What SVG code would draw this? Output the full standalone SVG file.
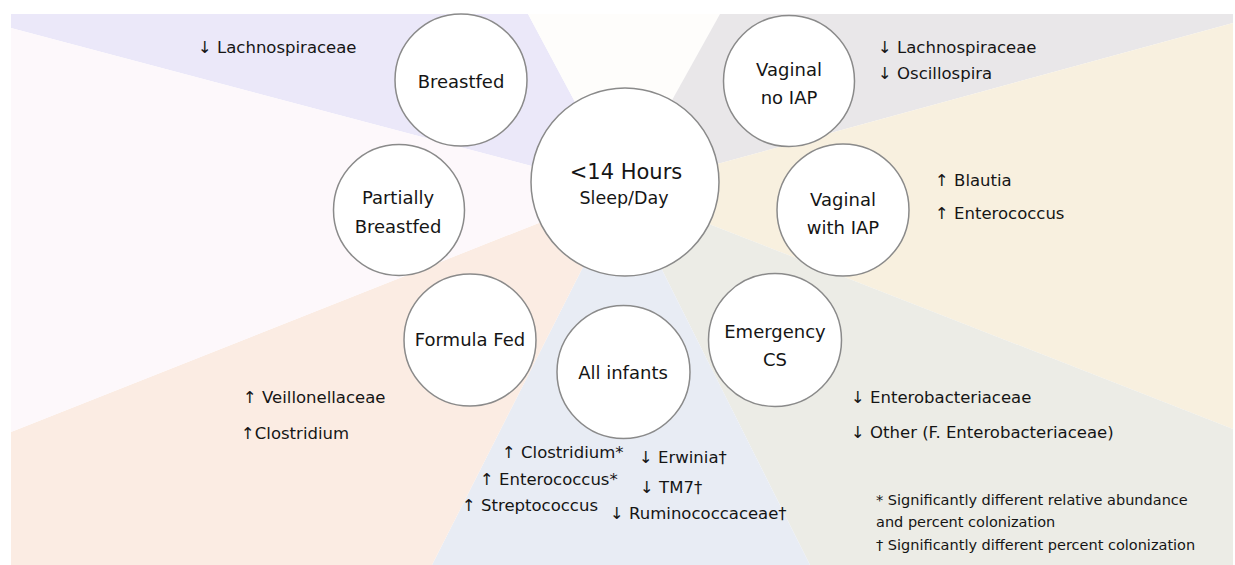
<svg xmlns="http://www.w3.org/2000/svg" width="1235" height="565" viewBox="0 0 1235 565">
<style>
  text { font-family: "DejaVu Sans", "Liberation Sans", sans-serif; fill: #151515; }
  .node circle { fill: #ffffff; stroke: #8a8a8a; stroke-width: 1.5; }
  .lbl { font-size: 18px; text-anchor: middle; }
  .ann { font-size: 16.5px; }
  .foot { font-size: 14.5px; }
</style>
<rect width="1235" height="565" fill="#ffffff"/>
<g id="background">
  <polygon points="11,14 528,14 622,190 11,28" fill="#ebe8f9"/>
  <polygon points="528,14 720,14 622,190" fill="#fefdfb"/>
  <polygon points="720,14 1233,14 1233,23 622,190" fill="#e9e7e9"/>
  <polygon points="1233,23 1233,429 622,190" fill="#f8f0df"/>
  <polygon points="1233,429 1233,565 810,565 622,190" fill="#ecece6"/>
  <polygon points="810,565 432,565 622,190" fill="#e8ecf4"/>
  <polygon points="432,565 11,565 11,432 622,190" fill="#fbece3"/>
  <polygon points="11,432 11,28 622,190" fill="#fdf8fb"/>
</g>
<g id="connectors"/>
<g id="center" class="node">
  <circle cx="625" cy="182" r="94"/>
  <text x="626" y="179" style="font-size:21px;text-anchor:middle">&lt;14 Hours</text>
  <text x="624" y="204" style="font-size:17.5px;text-anchor:middle">Sleep/Day</text>
</g>
<g id="breastfed" class="node">
  <circle cx="461" cy="80" r="66"/>
  <text class="lbl" x="461" y="88">Breastfed</text>
</g>
<g id="partially-breastfed" class="node">
  <circle cx="399" cy="210" r="65.5"/>
  <text class="lbl" x="398" y="204">Partially</text>
  <text class="lbl" x="398" y="233">Breastfed</text>
</g>
<g id="formula-fed" class="node">
  <circle cx="470" cy="340" r="66"/>
  <text class="lbl" x="470" y="346">Formula Fed</text>
</g>
<g id="all-infants" class="node">
  <circle cx="623.5" cy="372" r="66.5"/>
  <text class="lbl" x="623" y="379">All infants</text>
</g>
<g id="emergency-cs" class="node">
  <circle cx="775" cy="340" r="66.5"/>
  <text class="lbl" x="775" y="338">Emergency</text>
  <text class="lbl" x="775" y="366">CS</text>
</g>
<g id="vaginal-with-iap" class="node">
  <circle cx="843" cy="210" r="66"/>
  <text class="lbl" x="843" y="206">Vaginal</text>
  <text class="lbl" x="843" y="234">with IAP</text>
</g>
<g id="vaginal-no-iap" class="node">
  <circle cx="789" cy="81" r="65.5"/>
  <text class="lbl" x="789" y="76">Vaginal</text>
  <text class="lbl" x="789" y="104">no IAP</text>
</g>
<g id="annotations">
  <text class="ann" x="198" y="53">↓ Lachnospiraceae</text>
  <text class="ann" x="878" y="53">↓ Lachnospiraceae</text>
  <text class="ann" x="878" y="79">↓ Oscillospira</text>
  <text class="ann" x="935" y="186">↑ Blautia</text>
  <text class="ann" x="935" y="219">↑ Enterococcus</text>
  <text class="ann" x="243" y="403">↑ Veillonellaceae</text>
  <text class="ann" x="241" y="439">↑Clostridium</text>
  <text class="ann" x="851" y="403">↓ Enterobacteriaceae</text>
  <text class="ann" x="851" y="438">↓ Other (F. Enterobacteriaceae)</text>
  <text class="ann" x="502" y="458">↑ Clostridium*</text>
  <text class="ann" x="480" y="485">↑ Enterococcus*</text>
  <text class="ann" x="462" y="511">↑ Streptococcus</text>
  <text class="ann" x="639" y="463">↓ Erwinia†</text>
  <text class="ann" x="640" y="493">↓ TM7†</text>
  <text class="ann" x="610" y="519">↓ Ruminococcaceae†</text>
  <text class="foot" x="876" y="505">* Significantly different relative abundance</text>
  <text class="foot" x="876" y="527">and percent colonization</text>
  <text class="foot" x="876" y="550">† Significantly different percent colonization</text>
</g>
</svg>
